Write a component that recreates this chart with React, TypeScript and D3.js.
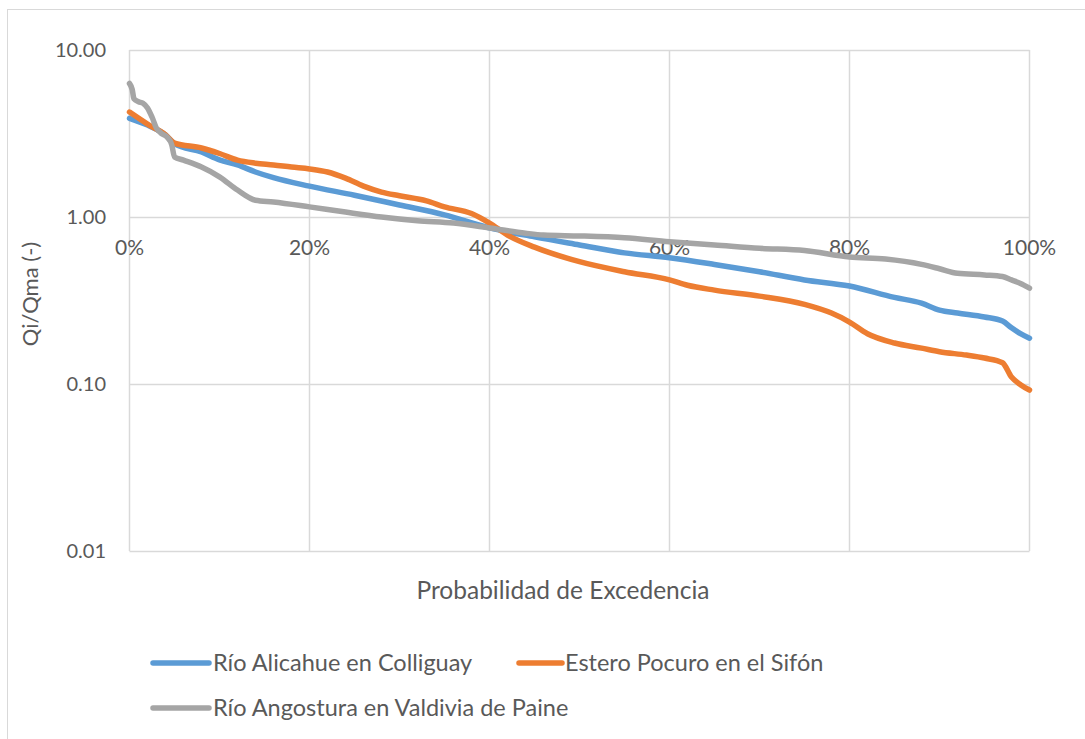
import React from 'react';
import * as d3 from 'd3';

// Curvas de duración (probabilidad de excedencia en %, Qi/Qma)
const alicahueP = [0, 2, 4, 5, 8, 10, 12, 14, 16, 20, 25, 30, 35, 40, 45, 50, 55, 60, 65, 70, 75, 80, 85, 88, 90, 92, 95, 97, 98, 99, 100];
const alicahueQ = [3.9, 3.55, 3.1, 2.75, 2.45, 2.2, 2.05, 1.86, 1.72, 1.53, 1.35, 1.18, 1.03, 0.86, 0.76, 0.68, 0.61, 0.57, 0.52, 0.47, 0.42, 0.386, 0.33, 0.305, 0.277, 0.266, 0.252, 0.238, 0.217, 0.2, 0.188];

const pocuroP = [0, 2, 4, 5, 8, 10, 12, 14, 16, 18, 20, 22, 24, 26, 28, 30, 33, 35, 38, 40, 42, 45, 50, 55, 60, 62, 65, 70, 75, 78, 80, 82, 85, 88, 90, 93, 95, 97, 98, 99, 100];
const pocuroQ = [4.25, 3.6, 3.1, 2.77, 2.59, 2.4, 2.19, 2.1, 2.05, 1.99, 1.94, 1.86, 1.71, 1.53, 1.41, 1.34, 1.25, 1.15, 1.05, 0.92, 0.78, 0.66, 0.54, 0.47, 0.42, 0.39, 0.365, 0.336, 0.3, 0.266, 0.235, 0.2, 0.176, 0.164, 0.156, 0.149, 0.143, 0.134, 0.11, 0.099, 0.092];

const angosturaP = [0, 0.3, 0.5, 1, 1.5, 2, 2.5, 3, 3.5, 4.2, 4.7, 5, 6, 8, 10, 12, 14, 16, 20, 24, 28, 32, 36, 40, 44, 46, 50, 55, 60, 65, 70, 75, 80, 84, 88, 90, 92, 95, 97, 98, 99, 100];
const angosturaQ = [6.3, 5.8, 5.1, 4.9, 4.8, 4.5, 3.97, 3.4, 3.18, 3.0, 2.7, 2.29, 2.19, 1.99, 1.74, 1.45, 1.26, 1.23, 1.15, 1.07, 1.0, 0.95, 0.92, 0.86, 0.8, 0.78, 0.77, 0.75, 0.71, 0.68, 0.65, 0.63, 0.576, 0.56, 0.52, 0.49, 0.46, 0.45, 0.44, 0.42, 0.4, 0.375];

const yTicks = [10, 1, 0.1, 0.01];
const xTicks = [0, 20, 40, 60, 80, 100];

const series = [
  { name: 'Río Alicahue en Colliguay', color: '#5B9BD5', p: alicahueP, q: alicahueQ },
  { name: 'Estero Pocuro en el Sifón', color: '#ED7D31', p: pocuroP, q: pocuroQ },
  { name: 'Río Angostura en Valdivia de Paine', color: '#A5A5A5', p: angosturaP, q: angosturaQ },
];

const font = 'Lato, "Open Sans", sans-serif';
const textColor = '#595959';
const gridColor = '#d9d9d9';

export default function App() {
  const x = d3.scaleLinear().domain([0, 100]).range([129.5, 1029.5]);
  const y = d3.scaleLog().domain([0.01, 10]).range([551, 50]);

  const line = d3.line<[number, number]>()
    .x(d => x(d[0]))
    .y(d => y(d[1]))
    .curve(d3.curveMonotoneX);

  const legendPos = [
    { lx: 153, ly: 663, len: 56, tx: 213 },
    { lx: 519, ly: 663, len: 43, tx: 565 },
    { lx: 153, ly: 708, len: 56, tx: 213 },
  ];

  return (
    <svg width={1085} height={739} style={{ position: 'absolute', left: 0, top: 0, background: '#fff' }}>
      <rect x={7.5} y={9.5} width={1090} height={740} fill="#fff" stroke={gridColor} />

      {/* grid */}
      {yTicks.map(t => (
        <line key={'gy' + t} x1={x(0)} x2={x(100)} y1={Math.round(y(t)) + 0.5} y2={Math.round(y(t)) + 0.5} stroke={gridColor} strokeWidth={1.5} />
      ))}
      {xTicks.map(t => (
        <line key={'gx' + t} x1={x(t)} x2={x(t)} y1={y(10)} y2={y(0.01)} stroke={gridColor} strokeWidth={1.5} />
      ))}

      {/* y labels */}
      {yTicks.map(t => (
        <text key={'ly' + t} x={106} y={y(t)} dy="0.35em" textAnchor="end" fontFamily={font} fontSize={20} fill={textColor}>
          {t.toFixed(2)}
        </text>
      ))}

      {/* x labels (axis crosses at 1.00) */}
      {xTicks.map(t => (
        <text key={'lx' + t} x={x(t)} y={y(1) + 31} dy="0.35em" textAnchor="middle" fontFamily={font} fontSize={21} fill={textColor}>
          {t}%
        </text>
      ))}

      {series.map(s => (
        <path
          key={s.name}
          d={line(s.p.map((p, i) => [p, s.q[i]] as [number, number])) || ''}
          fill="none"
          stroke={s.color}
          strokeWidth={5.5}
          strokeLinejoin="round"
          strokeLinecap="round"
        />
      ))}

      <text x={30} y={294} transform="rotate(-90 30 294)" textAnchor="middle" dy="0.35em" fontFamily={font} fontSize={22} fill={textColor}>
        Qi/Qma (-)
      </text>
      <text x={563} y={590} textAnchor="middle" dy="0.35em" fontFamily={font} fontSize={24.5} fill={textColor}>
        Probabilidad de Excedencia
      </text>

      {series.map((s, i) => (
        <g key={'lg' + s.name}>
          <line x1={legendPos[i].lx} x2={legendPos[i].lx + legendPos[i].len} y1={legendPos[i].ly} y2={legendPos[i].ly} stroke={s.color} strokeWidth={5.5} strokeLinecap="round" />
          <text x={legendPos[i].tx} y={legendPos[i].ly} dy="0.35em" fontFamily={font} fontSize={23.5} fill={textColor}>
            {s.name}
          </text>
        </g>
      ))}
    </svg>
  );
}
